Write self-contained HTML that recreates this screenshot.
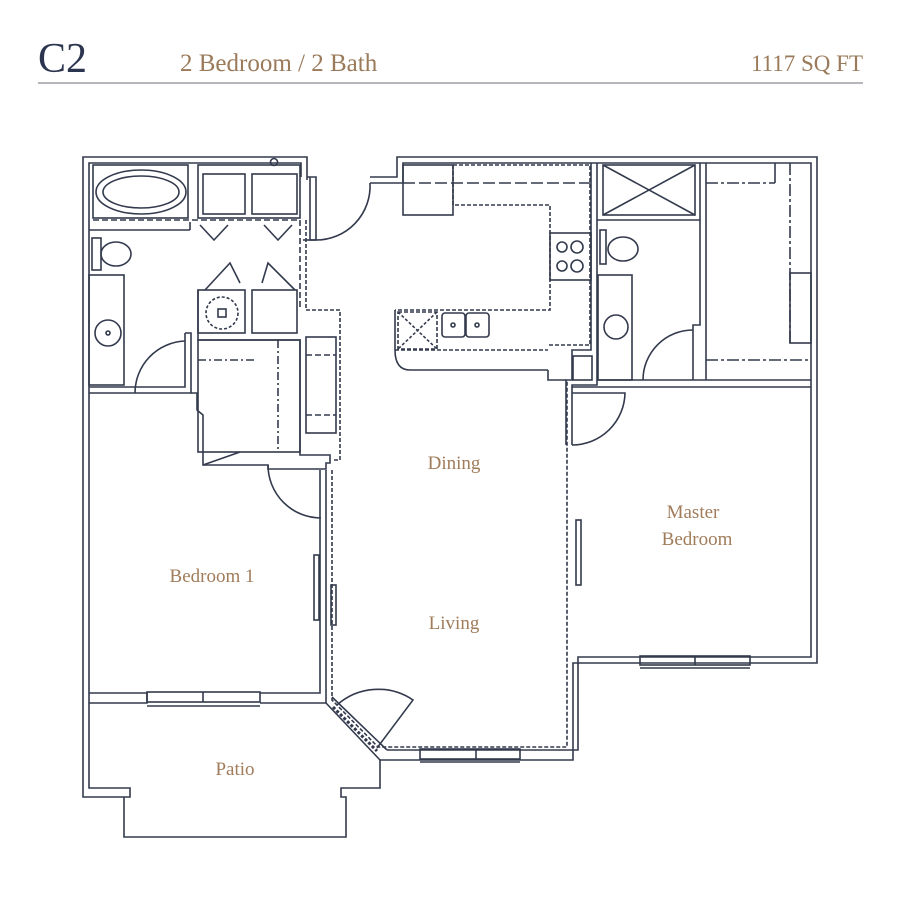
<!DOCTYPE html>
<html><head><style>
html,body{margin:0;padding:0;background:#fff;width:900px;height:900px;overflow:hidden}
</style></head><body>
<svg width="900" height="900" viewBox="0 0 900 900" xmlns="http://www.w3.org/2000/svg">
<g font-family="Liberation Serif, serif">
<text x="38" y="72" font-size="42" fill="#2c3550">C2</text>
<text x="180" y="71" font-size="25" fill="#9a7a5a">2 Bedroom / 2 Bath</text>
<text x="863" y="71" font-size="23" fill="#9a7a5a" text-anchor="end">1117 SQ FT</text>
</g>
<line x1="38" y1="83" x2="863" y2="83" stroke="#6b6f7a" stroke-width="1"/>
<g fill="none" stroke="#333a4d" stroke-width="1.6">
<polyline points="307,180 307,157 83,157 83,797 130,797 130,788 89,788 89,163 301,163 301,177"/>
<polyline points="124,797 124,837 346,837 346,797 341,797 341,788 380,788 380,760 573,760 573,663 817,663 817,157 397,157 397,177 370,177"/>
<polyline points="370,183 403,183 403,163 811,163 811,657 578,657 578,750 387,750"/>
<polyline points="307,177 316,177 316,240 310,240 310,177"/>
<line x1="303" y1="240" x2="316" y2="240"/>
<path d="M316,240 A54,54 0 0 0 370,183"/>
<polyline points="89,693 147,693 147,703 89,703"/>
<polyline points="260,693 320,693 320,470"/>
<polyline points="260,703 326,703 380,760"/>
<line x1="332" y1="697" x2="387" y2="750"/>
<line x1="326" y1="703" x2="326" y2="470"/>
<rect x="147" y="692" width="113" height="10"/><line x1="203" y1="692" x2="203" y2="702"/><line x1="147" y1="706" x2="260" y2="706"/>
<rect x="420" y="749" width="100" height="10"/><line x1="476" y1="749" x2="476" y2="759"/><line x1="420" y1="762" x2="520" y2="762"/>
<rect x="640" y="656" width="110" height="9"/><line x1="695" y1="656" x2="695" y2="665"/><line x1="640" y1="668" x2="750" y2="668"/>
<polyline points="89,393 135,393"/><polyline points="89,387 185,387 185,333"/>
<polyline points="135,393 191,393 191,333 185,333"/>
<path d="M135,393 A52,52 0 0 1 185,341"/>
<polyline points="191,393 197,393 197,410 203,415 203,465 268,465 268,469 326,469 326,463 330,463 330,455 300,455 300,340 198,340 198,290"/>
<path d="M203,465 L240,452"/>
<path d="M268,465 A53,53 0 0 0 321,518"/>
<rect x="93" y="165" width="95" height="53"/>
<ellipse cx="141" cy="192" rx="45" ry="22"/><ellipse cx="141" cy="192" rx="38" ry="16"/>
<line x1="89" y1="230" x2="190" y2="230"/><line x1="190" y1="222" x2="190" y2="230"/>
<line x1="93" y1="220" x2="300" y2="220" stroke-dasharray="6,3"/>
<rect x="198" y="165" width="102" height="53"/>
<rect x="203" y="174" width="42" height="40"/><rect x="252" y="174" width="45" height="40"/>
<circle cx="274" cy="162" r="3.5"/>
<polyline points="200,225 214,240 228,225"/><polyline points="264,225 278,240 292,225"/>
<rect x="92" y="238" width="9" height="32"/><ellipse cx="116" cy="254" rx="15" ry="12"/>
<rect x="89" y="275" width="35" height="110"/><circle cx="108" cy="333" r="13"/><circle cx="108" cy="333" r="2"/>
<rect x="198" y="290" width="47" height="43"/><circle cx="222" cy="313" r="16" stroke-dasharray="3,2"/><rect x="218" y="309" width="8" height="8"/>
<rect x="252" y="290" width="45" height="43"/>
<polyline points="205,290 230,263 240,283"/><polyline points="262,283 268,263 295,290"/>
<rect x="198" y="340" width="102" height="112"/>
<line x1="198" y1="360" x2="256" y2="360" stroke-dasharray="8,3,2,3"/><line x1="278" y1="340" x2="278" y2="452" stroke-dasharray="8,3,2,3"/>
<rect x="306" y="337" width="30" height="96"/>
<line x1="306" y1="355" x2="336" y2="355" stroke-dasharray="6,3"/><line x1="306" y1="415" x2="336" y2="415" stroke-dasharray="6,3"/>
<polyline points="300,220 300,310" stroke-dasharray="6,3"/><polyline points="306,220 306,310 340,310 340,460 332,460" stroke-dasharray="4,2"/>
<polyline points="332,470 332,700 378,747 567,747 567,380" stroke-dasharray="4,2"/>
<rect x="314" y="555" width="5" height="65"/><rect x="331" y="585" width="5" height="40"/>
<rect x="576" y="520" width="5" height="65"/>
<rect x="403" y="165" width="50" height="50"/>
<line x1="403" y1="183" x2="590" y2="183" stroke-dasharray="12,4"/>
<polyline points="453,165 590,165 590,345 548,345" stroke-dasharray="4,2"/>
<polyline points="453,165 453,205 550,205 550,310 395,310" stroke-dasharray="4,2"/>
<rect x="550" y="233" width="41" height="47"/>
<circle cx="562" cy="247" r="5"/><circle cx="577" cy="247" r="6"/><circle cx="562" cy="266" r="5"/><circle cx="577" cy="266" r="6"/>
<path d="M395,310 L395,350 Q395,370 410,370 L548,370"/>
<rect x="398" y="312" width="39" height="37" stroke-dasharray="4,2"/><line x1="398" y1="312" x2="437" y2="349" stroke-dasharray="3,2"/><line x1="437" y1="312" x2="398" y2="349" stroke-dasharray="3,2"/>
<rect x="442" y="313" width="23" height="24" rx="3"/><rect x="466" y="313" width="23" height="24" rx="3"/>
<circle cx="453" cy="325" r="2"/><circle cx="477" cy="325" r="2"/>
<line x1="395" y1="350" x2="548" y2="350" stroke-dasharray="4,2"/>
<polyline points="548,370 548,380 566,380"/>
<polyline points="591,163 591,350 572,350 572,380 566,380 566,445"/>
<polyline points="597,163 597,385 572,385 572,445"/>
<rect x="573" y="356" width="19" height="24"/>
<path d="M572,393 L625,393 A53,53 0 0 1 572,445"/>
<rect x="603" y="165" width="92" height="50"/><line x1="603" y1="165" x2="695" y2="215"/><line x1="695" y1="165" x2="603" y2="215"/>
<line x1="597" y1="220" x2="700" y2="220"/>
<rect x="600" y="230" width="6" height="34"/><ellipse cx="623" cy="249" rx="15" ry="12"/>
<rect x="598" y="275" width="34" height="105"/><circle cx="616" cy="327" r="12"/>
<polyline points="700,163 700,325 693,325 693,380"/>
<polyline points="706,163 706,380"/>
<path d="M643,380 A50,50 0 0 1 693,330"/>
<line x1="597" y1="380" x2="811" y2="380"/><line x1="572" y1="387" x2="811" y2="387"/>
<line x1="706" y1="183" x2="775" y2="183" stroke-dasharray="12,3,3,3"/>
<polyline points="775,163 775,183"/>
<line x1="790" y1="163" x2="790" y2="343" stroke-dasharray="12,3,3,3"/>
<rect x="790" y="273" width="21" height="70"/>
<line x1="706" y1="360" x2="811" y2="360" stroke-dasharray="12,3,3,3"/>
<path d="M333,707 L377,751" stroke-width="3" stroke-dasharray="3,2"/>
<path d="M377,748 L413,700 A62,62 0 0 0 337,705"/>
</g>
<g font-family="Liberation Serif, serif" font-size="19" fill="#a07c5a" text-anchor="middle">
<text x="454" y="469">Dining</text>
<text x="454" y="629">Living</text>
<text x="693" y="518">Master</text>
<text x="697" y="545">Bedroom</text>
<text x="212" y="582">Bedroom 1</text>
<text x="235" y="775">Patio</text>
</g>
</svg>
</body></html>
